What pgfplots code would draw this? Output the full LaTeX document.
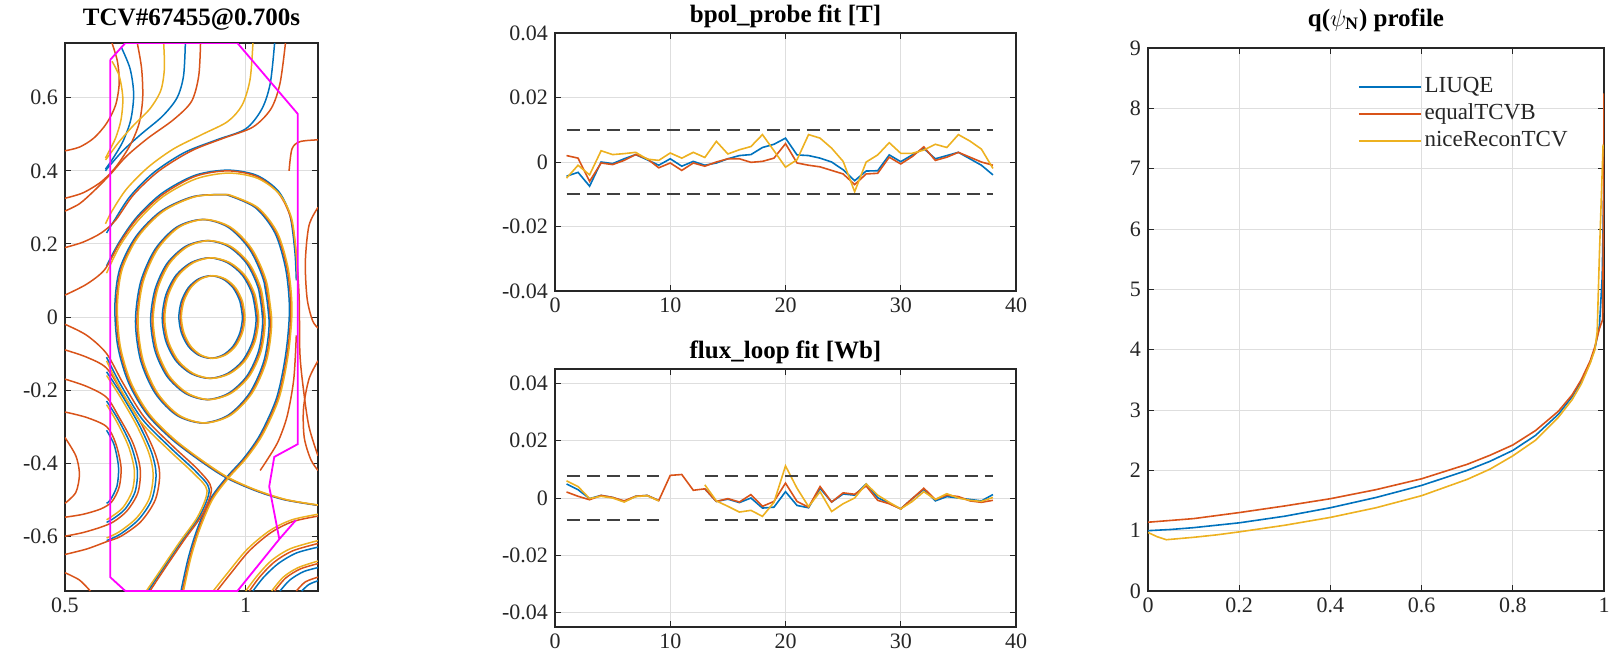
\documentclass[border=0pt]{standalone}
\usepackage{fontspec}
\setmainfont{Liberation Serif}
\usepackage{pgfplots}
\usepackage{pgfplotstable}
\pgfplotsset{compat=1.18}
\definecolor{mblue}{RGB}{0,114,189}
\definecolor{morange}{RGB}{217,83,25}
\definecolor{myellow}{RGB}{237,177,32}
\definecolor{mmag}{RGB}{255,0,255}
\definecolor{maxis}{RGB}{38,38,38}

\pgfplotsset{
  every axis title/.style={at={(0.5,1)}, anchor=base},
  mstyle/.style={
    scale only axis, anchor=south west,
    axis line style={maxis, line width=0.7pt},
    grid=major,
    major grid style={black!13, line width=0.45pt},
    tick align=inside,
    tick style={maxis, line width=0.5pt},
    major tick length=3pt,
    tick label style={font=\fontsize{11}{12}\selectfont, text=maxis},
    title style={font=\bfseries\fontsize{12.5}{14}\selectfont},
    scaled ticks=false,
    unbounded coords=jump,
    clip=true,
  },
  cb/.style={mblue, line width=0.75pt, smooth},
  co/.style={morange, line width=0.75pt, smooth},
  cy/.style={myellow, line width=0.75pt, smooth},
  sb/.style={mblue, line width=0.8pt},
  so/.style={morange, line width=0.8pt},
  sy/.style={myellow, line width=0.8pt},
  dsh/.style={black!75, line width=1pt, dash pattern=on 6.5pt off 3.5pt},
}

% ---------- flux surfaces (closed) : Z, R orange, R blue, R yellow
\pgfplotstableread{
Z Ro Rb Ry
0.000 0.995 0.991 0.998
0.043 0.988 0.984 0.991
0.080 0.969 0.965 0.972
0.104 0.941 0.937 0.944
0.113 0.907 0.903 0.910
0.104 0.873 0.869 0.876
0.080 0.845 0.841 0.848
0.043 0.826 0.822 0.829
0.000 0.819 0.815 0.822
-0.043 0.826 0.822 0.829
-0.080 0.845 0.841 0.848
-0.104 0.873 0.869 0.876
-0.113 0.907 0.903 0.910
-0.104 0.941 0.937 0.944
-0.080 0.969 0.965 0.972
-0.043 0.988 0.984 0.991
0.000 0.995 0.991 0.998
0.043 0.988 0.984 0.991
}\ringA
\pgfplotstableread{
Z Ro Rb Ry
-0.003 1.033 1.029 1.036
0.060 1.023 1.019 1.026
0.114 0.995 0.991 0.998
0.149 0.953 0.949 0.956
0.162 0.903 0.899 0.906
0.149 0.853 0.849 0.856
0.114 0.811 0.807 0.814
0.060 0.783 0.779 0.786
-0.003 0.773 0.769 0.776
-0.066 0.783 0.779 0.786
-0.120 0.811 0.807 0.814
-0.155 0.853 0.849 0.856
-0.168 0.903 0.899 0.906
-0.155 0.953 0.949 0.956
-0.120 0.995 0.991 0.998
-0.066 1.023 1.019 1.026
-0.003 1.033 1.029 1.036
0.060 1.023 1.019 1.026
}\ringB
\pgfplotstableread{
Z Ro Rb Ry
-0.008 1.051 1.047 1.054
0.075 1.040 1.036 1.043
0.146 1.007 1.003 1.010
0.193 0.956 0.952 0.959
0.209 0.896 0.892 0.899
0.193 0.837 0.833 0.840
0.146 0.786 0.782 0.789
0.075 0.753 0.749 0.756
-0.008 0.741 0.737 0.744
-0.092 0.753 0.749 0.756
-0.162 0.786 0.782 0.789
-0.209 0.837 0.833 0.840
-0.226 0.896 0.892 0.899
-0.209 0.956 0.952 0.959
-0.162 1.007 1.003 1.010
-0.092 1.040 1.036 1.043
-0.008 1.051 1.047 1.054
0.075 1.040 1.036 1.043
}\ringC
\pgfplotstableread{
Z Ro Rb Ry
-0.012 1.069 1.065 1.072
0.095 1.055 1.051 1.058
0.185 1.015 1.011 1.018
0.246 0.955 0.951 0.958
0.267 0.884 0.880 0.887
0.246 0.813 0.809 0.816
0.185 0.753 0.749 0.756
0.095 0.713 0.709 0.716
-0.012 0.699 0.695 0.702
-0.118 0.713 0.709 0.716
-0.208 0.753 0.749 0.756
-0.269 0.813 0.809 0.816
-0.290 0.884 0.880 0.887
-0.269 0.955 0.951 0.958
-0.208 1.015 1.011 1.018
-0.118 1.055 1.051 1.058
-0.012 1.069 1.065 1.072
0.095 1.055 1.051 1.058
}\ringD
\pgfplotstableread{
Z Ro Rb Ry
0.335 0.950 0.946 0.953
0.330 0.860 0.856 0.863
0.290 0.770 0.766 0.773
0.220 0.700 0.696 0.703
0.130 0.655 0.651 0.658
0.030 0.642 0.638 0.645
-0.080 0.650 0.646 0.653
-0.180 0.680 0.676 0.683
-0.265 0.730 0.726 0.733
-0.335 0.800 0.796 0.803
-0.395 0.880 0.876 0.883
-0.440 0.950 0.946 0.953
-0.475 1.030 1.026 1.033
-0.500 1.110 1.106 1.113
-0.515 1.200 1.196 1.203
}\sepA
\pgfplotstableread{
Z Ro Rb Ry
0.335 0.950 0.946 0.953
0.300 1.030 1.026 1.033
0.230 1.085 1.081 1.088
0.130 1.115 1.111 1.118
0.020 1.125 1.121 1.128
-0.100 1.115 1.111 1.118
-0.220 1.090 1.086 1.093
-0.320 1.045 1.041 1.048
-0.385 1.000 0.996 1.003
-0.440 0.950 0.946 0.953
-0.500 0.905 0.901 0.908
-0.580 0.870 0.866 0.873
-0.660 0.845 0.841 0.848
-0.750 0.825 0.821 0.828
}\sepB

% ---------- magnetic fits
\pgfplotstableread{
x b o y
1 -0.0044 0.0020 -0.0050
2 -0.0032 0.0012 -0.0010
3 -0.0075 -0.0060 -0.0040
4 0.0000 -0.0003 0.0035
5 -0.0005 -0.0008 0.0023
6 0.0010 0.0005 0.0026
7 0.0023 0.0023 0.0030
8 0.0007 0.0010 0.0009
9 -0.0010 -0.0018 0.0005
10 0.0010 -0.0003 0.0028
11 -0.0013 -0.0026 0.0012
12 0.0002 -0.0003 0.0030
13 -0.0010 -0.0013 0.0014
14 -0.0003 0.0000 0.0064
15 0.0010 0.0010 0.0025
16 0.0020 0.0010 0.0038
17 0.0023 -0.0001 0.0048
18 0.0045 0.0002 0.0085
19 0.0055 0.0012 0.0035
20 0.0074 0.0057 -0.0016
21 0.0022 -0.0003 0.0007
22 0.0020 -0.0010 0.0085
23 0.0012 -0.0015 0.0074
24 0.0000 -0.0026 0.0043
25 -0.0024 -0.0037 0.0002
26 -0.0058 -0.0070 -0.0092
27 -0.0028 -0.0037 0.0000
28 -0.0027 -0.0035 0.0022
29 0.0022 0.0015 0.0060
30 0.0001 -0.0006 0.0027
31 0.0022 0.0017 0.0027
32 0.0042 0.0047 0.0037
33 0.0010 0.0005 0.0055
34 0.0020 0.0015 0.0045
35 0.0030 0.0030 0.0085
36 0.0010 0.0015 0.0065
37 -0.0010 0.0000 0.0040
38 -0.0040 -0.0010 -0.0020
}\bpol
\pgfplotstableread{
x b o y
1 0.0049 0.0021 0.0060
2 0.0029 0.0006 0.0040
3 -0.0002 -0.0006 -0.0002
4 0.0009 0.0009 0.0006
5 0.0002 0.0002 0.0000
6 -0.0012 -0.0010 -0.0014
7 0.0006 0.0006 0.0005
8 0.0009 0.0009 0.0008
9 -0.0009 -0.0009 -0.0010
10 nan 0.0079 nan
11 nan 0.0082 nan
12 nan 0.0027 nan
13 0.0032 0.0032 0.0046
14 -0.0012 -0.0012 -0.0010
15 -0.0004 -0.0002 -0.0029
16 -0.0016 -0.0014 -0.0049
17 0.0000 0.0012 -0.0043
18 -0.0035 -0.0029 -0.0064
19 -0.0032 -0.0012 -0.0015
20 0.0022 0.0052 0.0112
21 -0.0026 -0.0012 0.0034
22 -0.0034 -0.0032 -0.0030
23 0.0034 0.0040 0.0022
24 -0.0014 -0.0014 -0.0047
25 0.0014 0.0018 -0.0020
26 0.0010 0.0013 0.0000
27 0.0049 0.0042 0.0049
28 0.0001 -0.0008 0.0010
29 -0.0018 -0.0020 -0.0015
30 -0.0038 -0.0038 -0.0038
31 -0.0002 -0.0002 -0.0012
32 0.0030 0.0034 0.0022
33 -0.0010 -0.0005 -0.0005
34 0.0005 0.0010 0.0015
35 0.0000 0.0005 0.0000
36 -0.0005 -0.0010 -0.0008
37 -0.0010 -0.0015 -0.0012
38 0.0012 -0.0008 0.0002
}\flux

% ---------- q profiles
\pgfplotstableread{
x q
0 1.00
0.05 1.02
0.1 1.05
0.15 1.09
0.2 1.13
0.3 1.24
0.4 1.38
0.5 1.55
0.6 1.75
0.7 2.00
0.75 2.15
0.8 2.33
0.85 2.58
0.9 2.93
0.93 3.22
0.95 3.47
0.97 3.80
0.98 4.02
0.99 4.40
0.996 5.20
1.0 6.90
}\qliuqe
\pgfplotstableread{
x q
0 1.14
0.05 1.17
0.1 1.20
0.15 1.25
0.2 1.30
0.3 1.41
0.4 1.53
0.5 1.68
0.6 1.86
0.7 2.10
0.75 2.25
0.8 2.42
0.85 2.66
0.9 2.98
0.93 3.25
0.95 3.50
0.97 3.82
0.98 4.05
0.99 4.35
0.997 4.50
0.999 6.50
1.0 8.25
}\qequal
\pgfplotstableread{
x q
0 0.97
0.02 0.90
0.04 0.85
0.07 0.87
0.1 0.89
0.15 0.93
0.2 0.98
0.3 1.09
0.4 1.22
0.5 1.38
0.6 1.58
0.7 1.85
0.75 2.02
0.8 2.24
0.85 2.50
0.9 2.88
0.93 3.17
0.95 3.43
0.97 3.78
0.98 4.00
0.985 4.30
0.99 5.60
0.998 7.40
}\qnice

\begin{document}
\begin{tikzpicture}
\useasboundingbox (0,0) rectangle (806pt,330.5pt);

% ================= left: flux surfaces =================
\begin{axis}[mstyle, at={(32.5pt,35pt)}, width=126.5pt, height=274pt,
  xmin=0.5, xmax=1.2, ymin=-0.75, ymax=0.75,
  xtick={0.5,1}, xticklabels={0.5,1},
  ytick={-0.6,-0.4,-0.2,0,0.2,0.4,0.6},
  yticklabels={-0.6,-0.4,-0.2,0,0.2,0.4,0.6},
  title={TCV\#67455@0.700s}, title style={yshift=9pt}]
% blue
\addplot[cb] table[x=Rb,y=Z] {\ringA};
\addplot[cb] table[x=Rb,y=Z] {\ringB};
\addplot[cb] table[x=Rb,y=Z] {\ringC};
\addplot[cb] table[x=Rb,y=Z] {\ringD};
\addplot[cb] table[x=Rb,y=Z] {\sepA};
\addplot[cb] table[x=Rb,y=Z] {\sepB};
\addplot[cb] coordinates {(1.080,0.750) (1.068,0.640) (1.045,0.570) (1.000,0.515) (0.920,0.485) (0.830,0.450) (0.745,0.395) (0.680,0.330) (0.635,0.262) (0.615,0.230)};
\addplot[cb] coordinates {(0.833,0.750) (0.828,0.660) (0.810,0.600) (0.770,0.550) (0.710,0.500) (0.660,0.455) (0.620,0.410) (0.612,0.400)};
\addplot[cb] coordinates {(0.655,0.740) (0.680,0.680) (0.690,0.610) (0.682,0.540) (0.660,0.480) (0.630,0.430) (0.612,0.405)};
\addplot[cb] coordinates {(0.615,0.140) (0.650,0.205) (0.700,0.275) (0.770,0.340) (0.860,0.388) (0.950,0.402) (1.030,0.388) (1.090,0.345) (1.122,0.280) (1.136,0.180) (1.140,0.100)};
\addplot[cb] coordinates {(0.615,-0.110) (0.654,-0.185) (0.714,-0.280) (0.794,-0.360) (0.864,-0.425) (0.899,-0.472) (0.874,-0.542) (0.824,-0.612) (0.769,-0.692) (0.730,-0.750)};
\addplot[cb] coordinates {(0.615,-0.150) (0.658,-0.215) (0.705,-0.295) (0.740,-0.372) (0.752,-0.432) (0.740,-0.500) (0.703,-0.555) (0.652,-0.595) (0.615,-0.612)};
\addplot[cb] coordinates {(0.615,-0.230) (0.648,-0.282) (0.682,-0.350) (0.700,-0.418) (0.694,-0.478) (0.666,-0.526) (0.632,-0.553) (0.615,-0.562)};
\addplot[cb] coordinates {(0.615,-0.310) (0.636,-0.350) (0.648,-0.410) (0.644,-0.462) (0.626,-0.500) (0.615,-0.510)};
\addplot[cb] coordinates {(1.020,-0.750) (1.050,-0.712) (1.090,-0.675) (1.140,-0.646) (1.200,-0.630)};
\addplot[cb] coordinates {(1.095,-0.750) (1.122,-0.720) (1.160,-0.697) (1.200,-0.686)};
\addplot[cb] coordinates {(1.155,-0.750) (1.175,-0.732) (1.200,-0.722)};
% orange
\addplot[co] table[x=Ro,y=Z] {\ringA};
\addplot[co] table[x=Ro,y=Z] {\ringB};
\addplot[co] table[x=Ro,y=Z] {\ringC};
\addplot[co] table[x=Ro,y=Z] {\ringD};
\addplot[co] table[x=Ro,y=Z] {\sepA};
\addplot[co] table[x=Ro,y=Z] {\sepB};
\addplot[co] coordinates {(1.110,0.750) (1.095,0.640) (1.070,0.570) (1.020,0.520) (0.940,0.490) (0.850,0.455) (0.760,0.400) (0.690,0.335) (0.640,0.265) (0.600,0.230) (0.550,0.205) (0.500,0.190)};
\addplot[co] coordinates {(0.875,0.750) (0.870,0.660) (0.850,0.590) (0.800,0.540) (0.730,0.490) (0.670,0.440) (0.625,0.390) (0.580,0.345) (0.540,0.310) (0.500,0.290)};
\addplot[co] coordinates {(0.700,0.750) (0.712,0.680) (0.715,0.600) (0.705,0.530) (0.680,0.470) (0.640,0.410) (0.600,0.370) (0.550,0.340) (0.500,0.325)};
\addplot[co] coordinates {(0.630,0.750) (0.645,0.700) (0.650,0.640) (0.640,0.580) (0.615,0.530) (0.580,0.490) (0.540,0.465) (0.500,0.455)};
\addplot[co] coordinates {(0.500,0.060) (0.560,0.090) (0.610,0.130) (0.650,0.200) (0.700,0.270) (0.770,0.335) (0.860,0.385) (0.950,0.400) (1.030,0.385) (1.090,0.340) (1.125,0.270) (1.140,0.170) (1.148,0.050) (1.150,-0.100) (1.160,-0.200) (1.175,-0.300) (1.200,-0.380)};
\addplot[co] coordinates {(0.500,-0.020) (0.560,-0.050) (0.615,-0.100) (0.660,-0.180) (0.720,-0.275) (0.800,-0.355) (0.870,-0.420) (0.905,-0.470) (0.880,-0.540) (0.830,-0.610) (0.775,-0.690) (0.735,-0.750)};
\addplot[co] coordinates {(0.500,-0.090) (0.560,-0.110) (0.615,-0.140) (0.660,-0.210) (0.710,-0.290) (0.748,-0.370) (0.762,-0.430) (0.750,-0.500) (0.710,-0.560) (0.655,-0.600) (0.615,-0.615) (0.560,-0.635) (0.500,-0.650)};
\addplot[co] coordinates {(0.500,-0.170) (0.560,-0.190) (0.615,-0.220) (0.650,-0.275) (0.688,-0.345) (0.708,-0.415) (0.702,-0.480) (0.672,-0.530) (0.635,-0.560) (0.600,-0.575) (0.550,-0.590) (0.500,-0.600)};
\addplot[co] coordinates {(0.500,-0.260) (0.560,-0.275) (0.615,-0.300) (0.640,-0.345) (0.655,-0.410) (0.650,-0.465) (0.630,-0.505) (0.600,-0.525) (0.550,-0.540) (0.500,-0.548)};
\addplot[co] coordinates {(0.500,-0.330) (0.530,-0.380) (0.540,-0.430) (0.530,-0.480) (0.500,-0.510)};
\addplot[co] coordinates {(0.500,-0.700) (0.540,-0.720) (0.570,-0.750)};
\addplot[co] coordinates {(0.920,-0.750) (0.960,-0.700) (1.010,-0.640) (1.070,-0.590) (1.130,-0.560) (1.200,-0.545)};
\addplot[co] coordinates {(1.010,-0.750) (1.040,-0.710) (1.080,-0.670) (1.130,-0.640) (1.200,-0.620)};
\addplot[co] coordinates {(1.080,-0.750) (1.110,-0.715) (1.150,-0.690) (1.200,-0.675)};
\addplot[co] coordinates {(1.140,-0.750) (1.165,-0.725) (1.200,-0.712)};
\addplot[co] coordinates {(1.200,0.300) (1.175,0.250) (1.165,0.150) (1.170,0.050) (1.185,-0.010) (1.200,-0.030)};
\addplot[co] coordinates {(1.200,-0.120) (1.175,-0.170) (1.160,-0.250) (1.162,-0.330) (1.180,-0.390) (1.200,-0.420)};
\addplot[co] coordinates {(1.120,0.400) (1.128,0.460) (1.150,0.480) (1.200,0.485)};
\addplot[co] coordinates {(1.140,-0.050) (1.133,-0.170) (1.115,-0.270) (1.090,-0.340) (1.060,-0.390) (1.040,-0.420)};
% yellow
\addplot[cy] table[x=Ry,y=Z] {\ringA};
\addplot[cy] table[x=Ry,y=Z] {\ringB};
\addplot[cy] table[x=Ry,y=Z] {\ringC};
\addplot[cy] table[x=Ry,y=Z] {\ringD};
\addplot[cy] table[x=Ry,y=Z] {\sepA};
\addplot[cy] table[x=Ry,y=Z] {\sepB};
\addplot[cy] coordinates {(1.020,0.750) (1.012,0.650) (0.990,0.580) (0.950,0.535) (0.880,0.500) (0.800,0.460) (0.730,0.410) (0.670,0.350) (0.630,0.290) (0.612,0.255)};
\addplot[cy] coordinates {(0.773,0.750) (0.775,0.680) (0.765,0.620) (0.735,0.570) (0.690,0.525) (0.650,0.480) (0.620,0.440) (0.612,0.430)};
\addplot[cy] coordinates {(0.630,0.700) (0.650,0.660) (0.660,0.600) (0.655,0.540) (0.640,0.490) (0.620,0.450) (0.612,0.435)};
\addplot[cy] coordinates {(0.615,0.120) (0.652,0.195) (0.703,0.265) (0.772,0.330) (0.862,0.378) (0.952,0.394) (1.032,0.380) (1.093,0.337) (1.127,0.270) (1.140,0.170) (1.143,0.100)};
\addplot[cy] coordinates {(0.615,-0.120) (0.650,-0.190) (0.708,-0.285) (0.788,-0.365) (0.858,-0.430) (0.893,-0.475) (0.868,-0.545) (0.818,-0.615) (0.763,-0.695) (0.725,-0.750)};
\addplot[cy] coordinates {(0.615,-0.160) (0.655,-0.222) (0.700,-0.300) (0.733,-0.375) (0.744,-0.433) (0.733,-0.497) (0.698,-0.550) (0.650,-0.588) (0.615,-0.605)};
\addplot[cy] coordinates {(0.615,-0.240) (0.645,-0.290) (0.676,-0.355) (0.692,-0.420) (0.686,-0.476) (0.660,-0.522) (0.628,-0.547) (0.615,-0.555)};
\addplot[cy] coordinates {(0.910,-0.750) (0.952,-0.698) (1.004,-0.636) (1.066,-0.585) (1.128,-0.555) (1.200,-0.540)};
\addplot[cy] coordinates {(1.000,-0.750) (1.032,-0.708) (1.072,-0.666) (1.124,-0.634) (1.200,-0.612)};
\addplot[cy] coordinates {(1.072,-0.750) (1.104,-0.712) (1.145,-0.686) (1.200,-0.668)};
% vessel
\addplot[mmag, line width=0.9pt] coordinates {(0.625,0.704) (0.667,0.750) (0.977,0.750) (1.144,0.556) (1.144,-0.348) (1.079,-0.383) (1.065,-0.464) (1.093,-0.608) (1.139,-0.556) (1.093,-0.608) (0.977,-0.750) (0.667,-0.750) (0.625,-0.712) (0.625,0.704)};
\end{axis}

% ================= middle top: bpol =================
\begin{axis}[mstyle, at={(277.5pt,185pt)}, width=230.5pt, height=129pt,
  xmin=0, xmax=40, ymin=-0.04, ymax=0.04,
  xtick={0,10,20,30,40}, xticklabels={0,10,20,30,40},
  ytick={-0.04,-0.02,0,0.02,0.04}, yticklabels={-0.04,-0.02,0,0.02,0.04},
  title={bpol\_probe fit [T]}, title style={yshift=5.5pt}]
\addplot[sb] table[x=x,y=b] {\bpol};
\addplot[so] table[x=x,y=o] {\bpol};
\addplot[sy] table[x=x,y=y] {\bpol};
\addplot[dsh] coordinates {(1,0.01) (38,0.01)};
\addplot[dsh] coordinates {(1,-0.01) (38,-0.01)};
\end{axis}

% ================= middle bottom: flux loops =================
\begin{axis}[mstyle, at={(277.5pt,17pt)}, width=230.5pt, height=129pt,
  xmin=0, xmax=40, ymin=-0.045, ymax=0.045,
  xtick={0,10,20,30,40}, xticklabels={0,10,20,30,40},
  ytick={-0.04,-0.02,0,0.02,0.04}, yticklabels={-0.04,-0.02,0,0.02,0.04},
  title={flux\_loop fit [Wb]}, title style={yshift=5.5pt}]
\addplot[sb] table[x=x,y=b] {\flux};
\addplot[so] table[x=x,y=o] {\flux};
\addplot[sy] table[x=x,y=y] {\flux};
\addplot[dsh] coordinates {(1,0.0077) (9,0.0077)};
\addplot[dsh] coordinates {(13,0.0077) (38,0.0077)};
\addplot[dsh] coordinates {(1,-0.0077) (9,-0.0077)};
\addplot[dsh] coordinates {(13,-0.0077) (38,-0.0077)};
\end{axis}

% ================= right: q profile =================
\begin{axis}[mstyle, at={(574pt,35pt)}, width=228pt, height=271.5pt,
  xmin=0, xmax=1, ymin=0, ymax=9,
  xtick={0,0.2,0.4,0.6,0.8,1}, xticklabels={0,0.2,0.4,0.6,0.8,1},
  ytick={0,1,2,3,4,5,6,7,8,9}, yticklabels={0,1,2,3,4,5,6,7,8,9},
  title={q($\psi_{\mathbf{N}}$) profile}, title style={yshift=11pt},
  legend style={at={(axis cs:0.46,8.58)}, anchor=north west, draw=none, fill=none,
    font=\fontsize{11.5}{13}\selectfont, text=maxis, inner sep=0pt, row sep=0pt,
    nodes={text height=8pt, text depth=2.6pt, inner sep=1.4pt}},
  legend cell align=left,
  legend image code/.code={\draw[#1] (0pt,0pt) -- (31pt,0pt);}]
\addplot[sb] table[x=x,y=q] {\qliuqe};
\addlegendentry{LIUQE}
\addplot[so] table[x=x,y=q] {\qequal};
\addlegendentry{equalTCVB}
\addplot[sy] table[x=x,y=q] {\qnice};
\addlegendentry{niceReconTCV}
\end{axis}
\end{tikzpicture}
\end{document}
